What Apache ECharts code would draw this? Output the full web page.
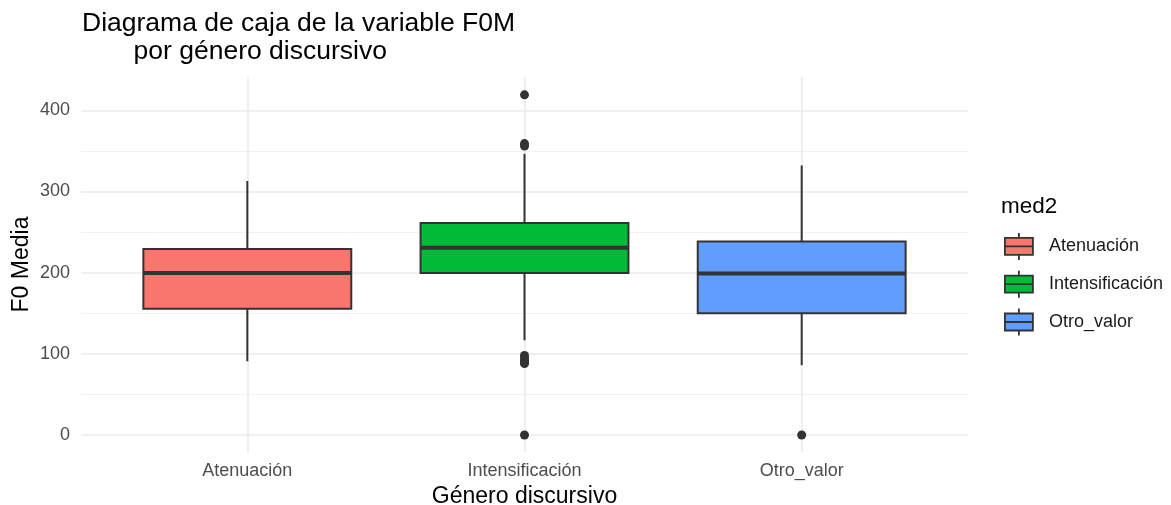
<!DOCTYPE html>
<html>
<head>
<meta charset="utf-8">
<script src="https://cdn.jsdelivr.net/npm/echarts@6/dist/echarts.min.js"></script>
<style>html,body{margin:0;padding:0;background:#fff}#c{width:1171px;height:505px}</style>
</head>
<body>
<div id="c"></div>
<script>
// ---- data ----
const categories = ['Atenuación', 'Intensificación', 'Otro_valor'];
const whiskerLow = [90.8, 116.6, 85.9];
const q1 = [155.4, 199.6, 150.0];
const median = [199.6, 230.7, 199.0];
const q3 = [229.0, 261.0, 238.4];
const whiskerHigh = [312.9, 346.4, 332.0];
const outliers = [[], [419, 359, 356, 98, 95, 92, 89, 88, 0], [0]];
const yMajorTicks = [0, 100, 200, 300, 400];
const yMinorTicks = [50, 150, 250, 350];
const colors = ['#F8766D', '#00BA38', '#619CFF'];

const FONT = 'Liberation Sans, Arial, sans-serif';
const chart = echarts.init(document.getElementById('c'));

const yMin = -21, yMax = 441;
const plotLeft = 81, plotRight = 1171 - 968, plotTop = 77, plotBottom = 505 - 452;
const bandPx = (968 - 81) / 3.2;
const pad = 0.1 * bandPx;

const gridLines = [];
yMajorTicks.forEach(v => gridLines.push({
  yAxis: v,
  lineStyle: { color: '#EBEBEB', width: 1.6, type: 'solid' },
  label: { show: true, position: 'start', distance: 11, formatter: String(v), color: '#4D4D4D', fontSize: 18, fontFamily: FONT }
}));
yMinorTicks.forEach(v => gridLines.push({
  yAxis: v,
  lineStyle: { color: '#F0F0F0', width: 0.9, type: 'solid' },
  label: { show: false }
}));
categories.forEach((c, i) => gridLines.push({
  xAxis: i + 1,
  lineStyle: { color: '#EBEBEB', width: 1.6, type: 'solid' },
  label: { show: false }
}));

function boxRender(params, api) {
  const x = api.value(0);
  const lo = api.coord([x, api.value(1)]);
  const b1 = api.coord([x, api.value(2)]);
  const md = api.coord([x, api.value(3)]);
  const b3 = api.coord([x, api.value(4)]);
  const hi = api.coord([x, api.value(5)]);
  const bw = api.size([1, 0])[0] * 0.75;
  const color = colors[params.seriesIndex - 1];
  const stroke = '#333333';
  return {
    type: 'group',
    children: [
      { type: 'line', shape: { x1: hi[0], y1: hi[1], x2: b3[0], y2: b3[1] }, style: { stroke, lineWidth: 2 } },
      { type: 'line', shape: { x1: lo[0], y1: lo[1], x2: b1[0], y2: b1[1] }, style: { stroke, lineWidth: 2 } },
      { type: 'rect', shape: { x: b3[0] - bw / 2, y: b3[1], width: bw, height: b1[1] - b3[1] }, style: { fill: color, stroke, lineWidth: 2 } },
      { type: 'line', shape: { x1: md[0] - bw / 2, y1: md[1], x2: md[0] + bw / 2, y2: md[1] }, style: { stroke, lineWidth: 4 } }
    ]
  };
}

const boxSeries = categories.map((c, i) => ({
  name: c,
  type: 'custom',
  xAxisIndex: 1,
  yAxisIndex: 1,
  renderItem: boxRender,
  itemStyle: { color: colors[i], borderColor: '#333333', borderWidth: 1.8 },
  encode: { x: 0, y: [1, 2, 3, 4, 5] },
  data: [[c, whiskerLow[i], q1[i], median[i], q3[i], whiskerHigh[i]]],
  z: 10
}));

const outlierData = [];
outliers.forEach((arr, i) => arr.forEach(v => outlierData.push([categories[i], v])));

const legendIcon = 'path://M14,0V5M0,5H28V22H0ZM0,13.5H28M14,22V27';

chart.setOption({
  animation: false,
  textStyle: { fontFamily: FONT },
  title: [
    {
      text: 'Diagrama de caja de la variable F0M\n       por género discursivo',
      left: 82, top: 10, padding: 0,
      textStyle: { fontSize: 26.5, lineHeight: 28, fontWeight: 'normal', color: '#000000', fontFamily: FONT }
    },
    {
      text: 'med2', left: 1001, top: 195, padding: 0,
      textStyle: { fontSize: 22.5, fontWeight: 'normal', color: '#000000', fontFamily: FONT }
    }
  ],
  legend: {
    orient: 'vertical', left: 1004, top: 232, padding: 0,
    itemWidth: 28, itemHeight: 27, itemGap: 9,
    selectedMode: false,
    icon: legendIcon,
    textStyle: { fontSize: 18, color: '#1A1A1A', fontFamily: FONT, padding: [0, 0, 0, 11] },
    data: categories.map((c, i) => ({ name: c, icon: legendIcon, itemStyle: { color: colors[i], borderColor: '#333333', borderWidth: 1.8 } }))
  },
  grid: [
    { left: plotLeft, right: plotRight, top: plotTop, bottom: plotBottom, containLabel: false, outerBoundsMode: 'none' },
    { left: plotLeft + pad, right: plotRight + pad, top: plotTop, bottom: plotBottom, containLabel: false, outerBoundsMode: 'none' }
  ],
  xAxis: [
    { type: 'value', gridIndex: 0, min: 0.4, max: 3.6, show: false },
    {
      type: 'category', gridIndex: 1, data: categories,
      axisLine: { show: false }, axisTick: { show: false }, splitLine: { show: false },
      axisLabel: { color: '#4D4D4D', fontSize: 18, margin: 10, fontFamily: FONT },
      name: 'Género discursivo', nameLocation: 'middle', nameGap: 31,
      nameTextStyle: { fontSize: 23, color: '#000000', fontFamily: FONT }
    }
  ],
  yAxis: [
    {
      type: 'value', gridIndex: 0, min: yMin, max: yMax,
      axisLine: { show: false }, axisTick: { show: false }, axisLabel: { show: false }, splitLine: { show: false },
      name: 'F0 Media', nameLocation: 'middle', nameRotate: 90, nameGap: 48,
      nameTextStyle: { fontSize: 23, color: '#000000', fontFamily: FONT }
    },
    { type: 'value', gridIndex: 1, min: yMin, max: yMax, show: false }
  ],
  series: [
    {
      type: 'line', xAxisIndex: 0, yAxisIndex: 0, data: [], silent: true, z: 0,
      markLine: { symbol: 'none', silent: true, animation: false, z: 1, data: gridLines }
    },
    ...boxSeries,
    {
      type: 'scatter', xAxisIndex: 1, yAxisIndex: 1, data: outlierData,
      symbol: 'circle', symbolSize: 9, itemStyle: { color: '#333333', opacity: 1 }, z: 12, silent: true
    }
  ]
});
</script>
</body>
</html>
